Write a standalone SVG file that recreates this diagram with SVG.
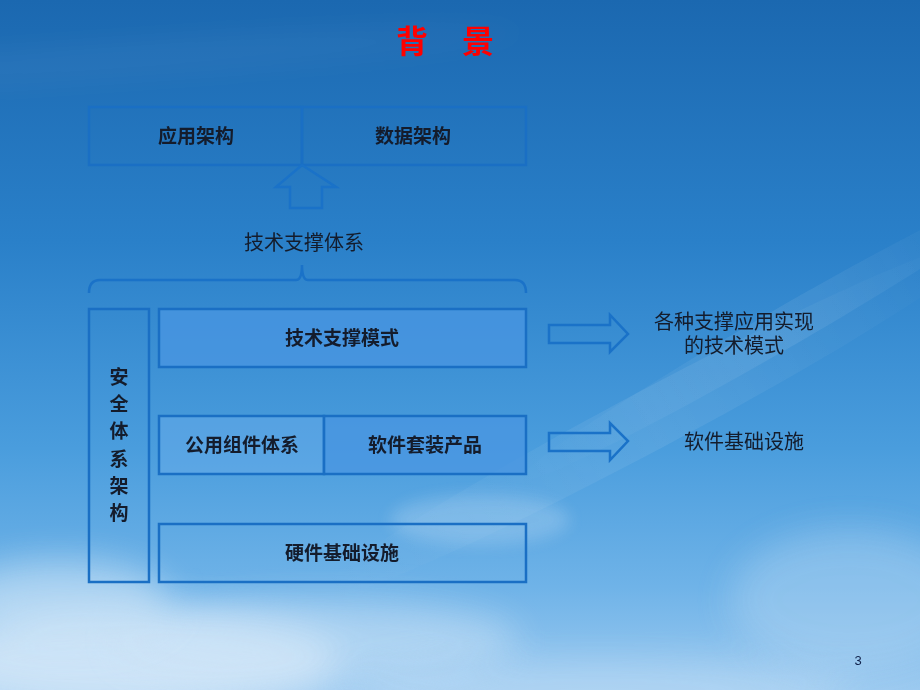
<svg xmlns="http://www.w3.org/2000/svg" width="920" height="690" viewBox="0 0 920 690">
<defs>
<linearGradient id="bg" x1="0" y1="0" x2="0" y2="1">
<stop offset="0" stop-color="#1b68b0"/>
<stop offset="0.35" stop-color="#2a80c9"/>
<stop offset="0.65" stop-color="#4a9ddd"/>
<stop offset="0.85" stop-color="#6fb3e8"/>
<stop offset="1" stop-color="#9ccaf0"/>
</linearGradient>
<linearGradient id="streak" x1="0" y1="0" x2="1" y2="0">
<stop offset="0" stop-color="#ffffff" stop-opacity="0"/>
<stop offset="0.5" stop-color="#ffffff" stop-opacity="0.09"/>
<stop offset="1" stop-color="#ffffff" stop-opacity="0"/>
</linearGradient>
<filter id="blur" x="-50%" y="-50%" width="200%" height="200%"><feGaussianBlur stdDeviation="18"/></filter>
<filter id="blur2" x="-50%" y="-50%" width="200%" height="200%"><feGaussianBlur stdDeviation="8"/></filter>
<style>
.box{fill:none;stroke:#1a6fc4;stroke-width:2.5}
.fill{fill:#4a95e2;fill-opacity:0.75;stroke:#1a6fc4;stroke-width:2.5}
.fillL{fill:#6aaeea;fill-opacity:0.45;stroke:#1a6fc4;stroke-width:2.5}
.bt{font-family:"Liberation Sans","Noto Sans CJK SC",sans-serif;font-size:19px;font-weight:bold;fill:#141c2c;text-anchor:middle}
.nt{font-family:"Liberation Sans","Noto Sans CJK SC",sans-serif;font-size:20px;fill:#141c2c;text-anchor:middle}
.arr{fill:none;stroke:#1a72c8;stroke-width:2.5;stroke-linejoin:miter}
</style>
</defs>
<rect width="920" height="690" fill="url(#bg)"/>
<g opacity="0.9">
<ellipse cx="120" cy="60" rx="420" ry="18" fill="#ffffff" opacity="0.05" filter="url(#blur)" transform="rotate(-4 120 60)"/>
<ellipse cx="650" cy="420" rx="380" ry="30" fill="url(#streak)" transform="rotate(-28 650 420)"/>
<ellipse cx="780" cy="330" rx="300" ry="20" fill="url(#streak)" transform="rotate(-30 780 330)"/>
<ellipse cx="120" cy="660" rx="220" ry="50" fill="#e8f2fb" opacity="0.75" filter="url(#blur)"/>
<ellipse cx="320" cy="640" rx="200" ry="40" fill="#d6e8f8" opacity="0.55" filter="url(#blur)"/>
<ellipse cx="60" cy="600" rx="110" ry="40" fill="#e0eef9" opacity="0.6" filter="url(#blur)"/>
<ellipse cx="600" cy="690" rx="250" ry="30" fill="#c6e0f6" opacity="0.5" filter="url(#blur)"/>
<ellipse cx="850" cy="600" rx="120" ry="70" fill="#b8d8f3" opacity="0.45" filter="url(#blur)"/>
<ellipse cx="480" cy="520" rx="90" ry="25" fill="#cfe4f7" opacity="0.3" filter="url(#blur2)"/>
</g>
<g id="title"><text x="412" y="53" font-family="'Liberation Sans','Noto Sans CJK SC',sans-serif" font-size="32" font-weight="bold" fill="#ff0000" text-anchor="middle">背</text><text x="478" y="53" font-family="'Liberation Sans','Noto Sans CJK SC',sans-serif" font-size="32" font-weight="bold" fill="#ff0000" text-anchor="middle">景</text></g>
<g id="app-arch"><rect class="box" x="89" y="107" width="213" height="58"/><text class="bt" x="196" y="143">应用架构</text></g>
<g id="data-arch"><rect class="box" x="302" y="107" width="224" height="58"/><text class="bt" x="413" y="143">数据架构</text></g>
<g id="tech-system"><text class="nt" x="304" y="250">技术支撑体系</text></g>
<g id="security"><rect class="box" x="89" y="309" width="60" height="273"/>
<text class="bt" x="119" y="384">安</text><text class="bt" x="119" y="411">全</text><text class="bt" x="119" y="438">体</text><text class="bt" x="119" y="466">系</text><text class="bt" x="119" y="493">架</text><text class="bt" x="119" y="520">构</text></g>
<g id="tech-mode"><rect class="fill" x="159" y="309" width="367" height="58"/><text class="bt" x="342" y="345">技术支撑模式</text></g>
<g id="common-comp"><rect class="fillL" x="159" y="416" width="165" height="58"/><text class="bt" x="242" y="452">公用组件体系</text></g>
<g id="software-pkg"><rect class="fill" x="324" y="416" width="202" height="58"/><text class="bt" x="425" y="452">软件套装产品</text></g>
<g id="hardware"><rect class="box" x="159" y="524" width="367" height="58"/><text class="bt" x="342" y="560">硬件基础设施</text></g>
<g id="desc1"><text class="nt" x="734" y="329">各种支撑应用实现</text><text class="nt" x="734" y="353">的技术模式</text></g>
<g id="desc2"><text class="nt" x="744" y="449">软件基础设施</text></g>
<g id="connectors">
<path class="arr" d="M302 165 L336 187 L322 187 L322 208 L290 208 L290 187 L276 187 Z"/>
<path d="M89 293 Q89 280 100 280 L296 280 Q302 280 302 265 Q302 280 308 280 L515 280 Q526 280 526 293" fill="none" stroke="#1a72c8" stroke-width="2.5"/>
<path class="arr" d="M549 325 L610 325 L610 315 L628 334 L610 352 L610 343 L549 343 Z"/>
<path class="arr" d="M549 433 L610 433 L610 423 L628 441 L610 460 L610 451 L549 451 Z"/>
</g>
<text x="858" y="665" font-family="'Liberation Sans',sans-serif" font-size="13" fill="#10214a" text-anchor="middle">3</text>
</svg>
